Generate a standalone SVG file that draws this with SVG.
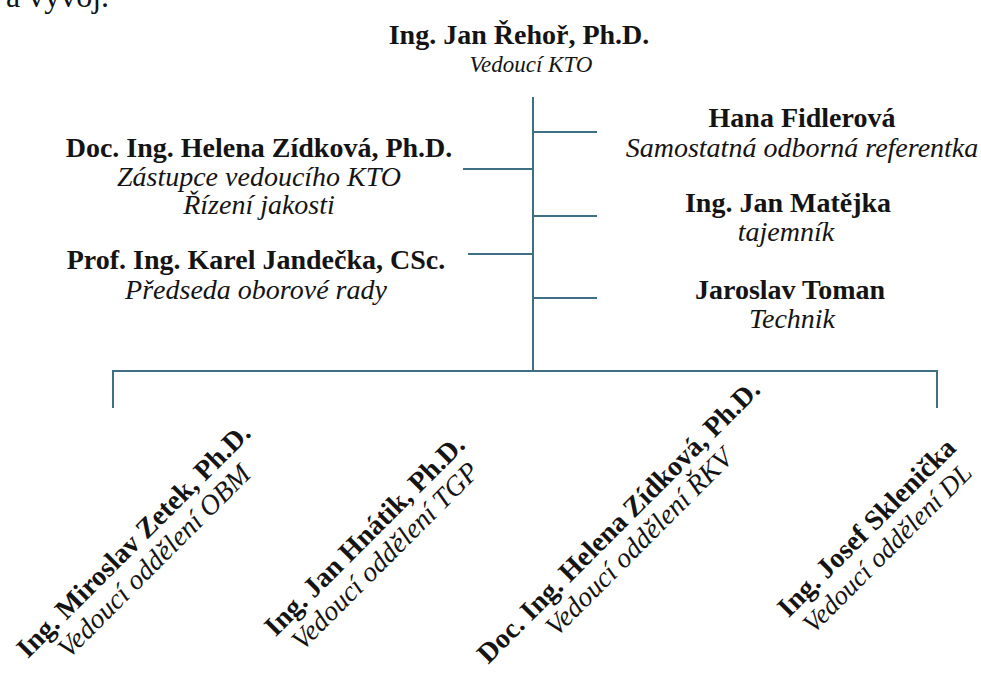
<svg xmlns="http://www.w3.org/2000/svg" width="981" height="675" viewBox="0 0 981 675">
<style>
text{font-family:"Liberation Serif","Times New Roman",serif;fill:#141414;font-size:28px}
.r{font-size:27px}
.b{font-weight:bold}
.i{font-style:italic}
.c{text-anchor:middle}
.ln{stroke:#3f6f85;stroke-width:2;fill:none}
</style>
<rect width="981" height="675" fill="#ffffff"/>
<text id="intro" x="6" y="7" style="font-size:32px">a vývoj.</text>
<g id="connectors" class="ln">
<line x1="533" y1="97" x2="533" y2="371"/>
<line x1="533" y1="132" x2="597" y2="132"/>
<line x1="463" y1="169" x2="533" y2="169"/>
<line x1="533" y1="216" x2="597" y2="216"/>
<line x1="468" y1="254" x2="533" y2="254"/>
<line x1="533" y1="298" x2="597" y2="298"/>
<polyline points="113,408 113,371 937,371 937,408"/>
</g>
<g id="n-rehor" class="c"><text class="b" x="519" y="44">Ing. Jan Řehoř, Ph.D.</text><text class="i" x="531" y="72" style="font-size:23px">Vedoucí KTO</text></g>
<g id="n-zidkova" class="c"><text class="b" x="259" y="157">Doc. Ing. Helena Zídková, Ph.D.</text><text class="i" x="259" y="186">Zástupce vedoucího KTO</text><text class="i" x="259" y="214">Řízení jakosti</text></g>
<g id="n-jandecka" class="c"><text class="b" x="256" y="269">Prof. Ing. Karel Jandečka, CSc.</text><text class="i" x="256" y="299">Předseda oborové rady</text></g>
<g id="n-fidlerova" class="c r"><text class="b" x="802" y="127">Hana Fidlerová</text><text class="i" x="802" y="157" style="font-size:28px">Samostatná odborná referentka</text></g>
<g id="n-matejka" class="c r"><text class="b" x="788" y="212">Ing. Jan Matějka</text><text class="i" x="786" y="241">tajemník</text></g>
<g id="n-toman" class="c r"><text class="b" x="790" y="299">Jaroslav Toman</text><text class="i" x="792" y="328">Technik</text></g>
<g id="n-zetek" class="c" transform="translate(140,547) rotate(-45)"><text class="b" x="0" y="0">Ing. Miroslav Zetek, Ph.D.</text><text class="i" x="0" y="29">Vedoucí oddělení OBM</text></g>
<g id="n-hnatik" class="c" transform="translate(371,542) rotate(-45)"><text class="b" x="0" y="0">Ing. Jan Hnátik, Ph.D.</text><text class="i" x="0" y="29">Vedoucí oddělení TGP</text></g>
<g id="n-zidkova2" class="c" transform="translate(625,528) rotate(-45)"><text class="b" x="0" y="0">Doc. Ing. Helena Zídková, Ph.D.</text><text class="i" x="0" y="29">Vedoucí oddělení ŘKV</text></g>
<g id="n-sklenicka" class="c" transform="translate(873,534) rotate(-45)"><text class="b" x="0" y="0">Ing. Josef Sklenička</text><text class="i r" x="0" y="29">Vedoucí oddělení DL</text></g>
</svg>
